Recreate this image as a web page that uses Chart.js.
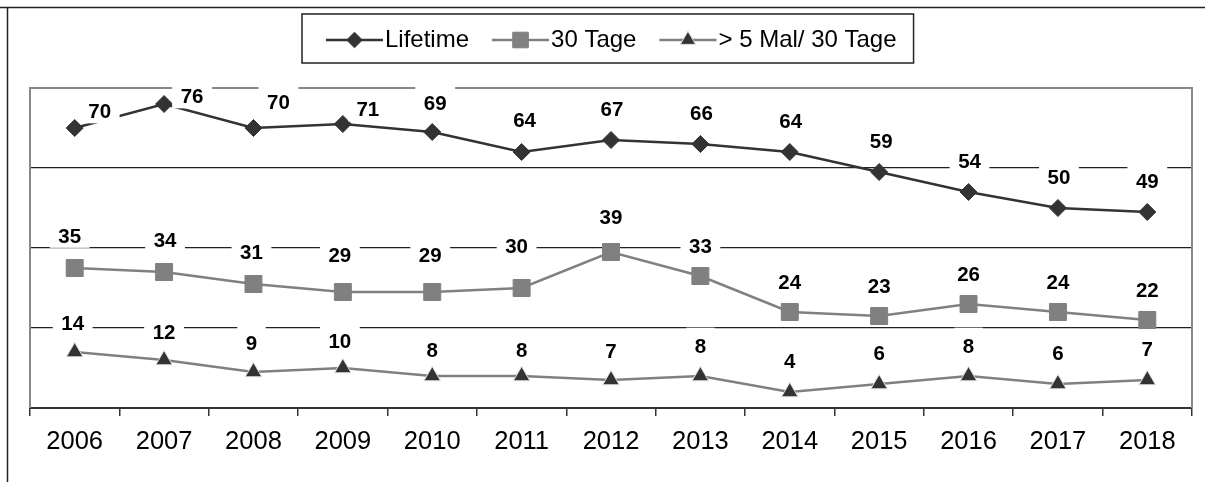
<!DOCTYPE html>
<html>
<head>
<meta charset="utf-8">
<script src="https://cdn.jsdelivr.net/npm/chart.js@4.4.1/dist/chart.umd.min.js"></script>
<style>
  html, body { margin: 0; padding: 0; background: #fff; }
  #wrap { width: 1205px; height: 482px; }
</style>
</head>
<body>
<div id="wrap"><canvas id="myChart" width="1205" height="482"></canvas></div>
<script>
// Daten
const jahre = ["2006", "2007", "2008", "2009", "2010", "2011", "2012", "2013", "2014", "2015", "2016", "2017", "2018"];
const lifetime = [70, 76, 70, 71, 69, 64, 67, 66, 64, 59, 54, 50, 49];
const dreissigTage = [35, 34, 31, 29, 29, 30, 39, 33, 24, 23, 26, 24, 22];
const mehrAls5Mal = [14, 12, 9, 10, 8, 8, 7, 8, 4, 6, 8, 6, 7];
const serienNamen = ["Lifetime", "30 Tage", "> 5 Mal/ 30 Tage"];
const yTicks = [0, 20, 40, 60, 80];

// Lage der Beschriftungen relativ zum Punkt (wie im Original verschoben)
const labelDx = [
    [25, 28, 25, 25, 3, 3, 1, 1, 1, 2, 1, 1, 0],
    [-5, 1, -2, -3, -2, -5, 0, 0, 0, 0, 0, 0, 0],
    [-2, 0, -2, -3, 0, 0, 0, 0, 0, 0, 0, 0, 0]
];
const labelDy = [
    [-17, -8, -26, -15, -29, -32, -31, -31, -31, -31, -31, -31, -31],
    [-32.5, -32, -32.5, -37, -37, -42.5, -35.5, -30.5, -30.5, -30.5, -30.5, -30.5, -30],
    [-29, -28.5, -29, -27, -26.5, -26.5, -29, -30.5, -31, -31, -30.5, -31, -31]
];

const schrift = "'Liberation Sans', Arial, sans-serif";

const rahmenPlugin = {
    id: "rahmen",
    beforeDatasetsDraw(chart) {
        const { ctx, chartArea } = chart;
        ctx.save();
        ctx.strokeStyle = "#888";
        ctx.lineWidth = 2;
        ctx.beginPath();
        ctx.moveTo(chartArea.left, chartArea.bottom);
        ctx.lineTo(chartArea.left, chartArea.top);
        ctx.lineTo(chartArea.right, chartArea.top);
        ctx.lineTo(chartArea.right, chartArea.bottom);
        ctx.stroke();
        ctx.restore();
    },
    afterDraw(chart) {
        const ctx = chart.ctx;
        ctx.save();
        ctx.strokeStyle = "#222";
        ctx.lineWidth = 1.5;
        ctx.beginPath();
        ctx.moveTo(0, 7.5);
        ctx.lineTo(chart.width, 7.5);
        ctx.moveTo(7.5, 7.5);
        ctx.lineTo(7.5, chart.height);
        ctx.stroke();
        ctx.restore();
    }
};

const werteLabels = {
    id: "werteLabels",
    afterDatasetsDraw(chart) {
        const ctx = chart.ctx;
        const fs = 20.5;
        const capH = 0.716 * fs;
        ctx.save();
        ctx.font = "bold " + fs + "px " + schrift;
        ctx.textAlign = "center";
        ctx.textBaseline = "alphabetic";
        chart.data.datasets.forEach((ds, i) => {
            const meta = chart.getDatasetMeta(i);
            meta.data.forEach((pt, j) => {
                const text = String(ds.data[j]);
                const x = pt.x + labelDx[i][j];
                const mitte = pt.y + labelDy[i][j];
                const w = ctx.measureText(text).width;
                const oben = mitte - capH / 2 - 10.5;
                const unten = mitte + capH / 2 + 5;
                ctx.fillStyle = "#fff";
                ctx.fillRect(x - w / 2 - 8.5, oben, w + 17, unten - oben);
                ctx.fillStyle = "#000";
                ctx.fillText(text, x, mitte + capH / 2);
            });
        });
        ctx.restore();
    }
};

const legende = {
    id: "legende",
    afterDraw(chart) {
        const ctx = chart.ctx;
        const boxLeft = 302, boxTop = 14, boxBottom = 63;
        const lineY = 40;
        let x = 326;
        ctx.save();
        ctx.font = "24px " + schrift;
        ctx.textBaseline = "alphabetic";
        ctx.textAlign = "left";
        chart.data.datasets.forEach((ds) => {
            ctx.strokeStyle = ds.borderColor;
            ctx.lineWidth = ds.borderWidth;
            ctx.beginPath();
            ctx.moveTo(x, lineY);
            ctx.lineTo(x + 57, lineY);
            ctx.stroke();
            ctx.fillStyle = ds.pointBackgroundColor;
            ctx.strokeStyle = ds.pointBorderColor;
            ctx.lineWidth = ds.pointBorderWidth;
            Chart.helpers.drawPoint(ctx, {
                pointStyle: ds.pointStyle,
                rotation: 0,
                radius: ds.pointRadius * 0.92,
                borderWidth: ds.pointBorderWidth
            }, x + 28.5, lineY);
            ctx.fillStyle = "#000";
            ctx.fillText(ds.label, x + 59, 46.5);
            x = x + 59 + ctx.measureText(ds.label).width + 23;
        });
        const boxRight = x - 23 + 17;
        ctx.strokeStyle = "#222";
        ctx.lineWidth = 1.5;
        ctx.strokeRect(boxLeft, boxTop, boxRight - boxLeft, boxBottom - boxTop);
        ctx.restore();
    }
};

const config = {
    type: "line",
    data: {
        labels: jahre,
        datasets: [
            {
                label: serienNamen[0],
                data: lifetime,
                borderColor: "#333",
                borderWidth: 2.5,
                pointStyle: "rectRot",
                pointRadius: 8.5,
                pointBackgroundColor: "#333",
                pointBorderColor: "#333",
                pointBorderWidth: 1
            },
            {
                label: serienNamen[1],
                data: dreissigTage,
                borderColor: "#808080",
                borderWidth: 2.5,
                pointStyle: "rect",
                pointRadius: 12,
                pointBackgroundColor: "#808080",
                pointBorderColor: "#808080",
                pointBorderWidth: 1
            },
            {
                label: serienNamen[2],
                data: mehrAls5Mal,
                borderColor: "#808080",
                borderWidth: 2.5,
                pointStyle: "triangle",
                pointRadius: 9.5,
                pointBackgroundColor: "#333",
                pointBorderColor: "#ddd",
                pointBorderWidth: 1
            }
        ]
    },
    options: {
        responsive: false,
        animation: false,
        devicePixelRatio: 1,
        layout: { padding: { left: 30, right: 8, top: 88, bottom: 13.4 } },
        plugins: {
            legend: { display: false },
            tooltip: { enabled: false }
        },
        elements: { line: { tension: 0 } },
        scales: {
            x: {
                offset: true,
                grid: {
                    offset: true,
                    drawOnChartArea: false,
                    tickLength: 8,
                    color: "#333",
                    lineWidth: 1.5
                },
                border: { color: "#333", width: 2 },
                ticks: {
                    color: "#000",
                    font: { family: schrift, size: 25.5 },
                    padding: 11,
                    maxRotation: 0,
                    autoSkip: false
                }
            },
            y: {
                min: 0,
                max: 80,
                afterBuildTicks: (s) => { s.ticks = yTicks.map((v) => ({ value: v })); },
                ticks: { display: false },
                grid: {
                    drawTicks: false,
                    color: (c) => (c.tick && (c.tick.value === 0 || c.tick.value === 80)) ? "rgba(0,0,0,0)" : "#222",
                    lineWidth: 1.2
                },
                border: { display: false }
            }
        }
    },
    plugins: [rahmenPlugin, werteLabels, legende]
};

new Chart(document.getElementById("myChart"), config);
</script>
</body>
</html>
